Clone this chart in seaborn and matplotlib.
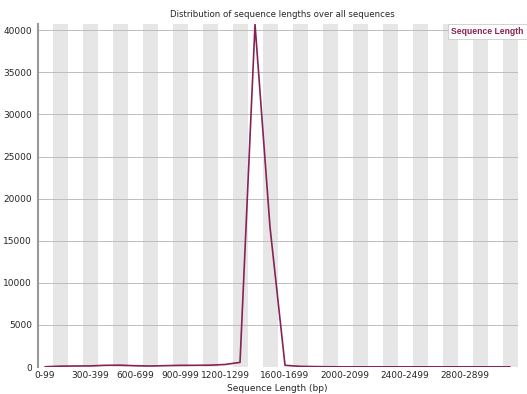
import matplotlib
matplotlib.use("Agg")
import matplotlib.pyplot as plt
import seaborn as sns
import pandas as pd

categories = [f"{i*100}-{i*100+99}" for i in range(32)]
counts = [30, 100, 120, 130, 200, 220, 150, 120, 160, 200, 200, 220, 300, 550,
          40700, 16600, 200, 80, 50, 30, 20, 20, 20, 20, 20, 20, 20, 20, 20, 20, 20, 20]
label_idx = [0, 3, 6, 9, 12, 16, 20, 24, 28]
yticks = [0, 5000, 10000, 15000, 20000, 25000, 30000, 35000, 40000]

sns.set_style("white")
plt.rcParams['font.family'] = ['DejaVu Sans']

df = pd.DataFrame({"Sequence Length (bp)": categories, "Count": counts})

fig = plt.figure(figsize=(5.27, 3.94), dpi=100)
ax = fig.add_axes([0.0712, 0.0685, 0.9108, 0.8697])

for i in range(1, len(categories), 2):
    ax.axvspan(i - 0.5, i + 0.5, color="#e6e6e6", lw=0, zorder=0)
for y in yticks:
    ax.axhline(y, color="#bdbdbd", lw=0.7, zorder=1)

sns.lineplot(data=df, x="Sequence Length (bp)", y="Count", sort=False,
             color="#882255", lw=1.2, ax=ax, zorder=3)

ax.set_xlim(-0.5, len(categories) - 0.5)
ax.set_ylim(0, max(counts))
ax.set_xticks(label_idx)
ax.set_xticklabels([categories[i] for i in label_idx], fontsize=6.5)
ax.set_yticks(yticks)
ax.set_yticklabels([str(y) for y in yticks], fontsize=6.5)
ax.tick_params(axis="both", length=2, pad=2, color="#888888")
ax.tick_params(axis="x", length=0, pad=3)
ax.set_xlabel("Sequence Length (bp)", fontsize=6.5, labelpad=3)
ax.set_ylabel("")
for s in ["top", "right", "bottom"]:
    ax.spines[s].set_visible(False)
ax.spines["left"].set_color("#999999")
ax.spines["left"].set_linewidth(1.5)

fig.text(0.535, 0.962, "Distribution of sequence lengths over all sequences",
         ha="center", va="center", fontsize=6.2)
fig.text(0.994, 0.919, "Sequence Length", ha="right", va="center", fontsize=6.2,
         fontweight="bold", color="#882255", family=["Liberation Sans", "DejaVu Sans"],
         bbox=dict(boxstyle="square,pad=0.35", fc="white", ec="#cccccc", lw=0.6))

fig.savefig("out.png", dpi=100)
